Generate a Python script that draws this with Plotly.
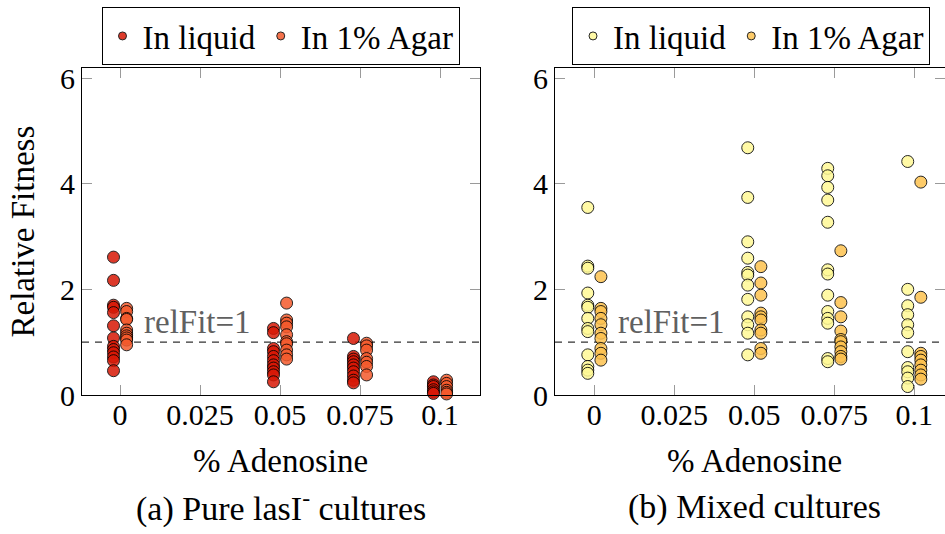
import plotly.graph_objects as go

# ---------------- data ----------------
CONCENTRATIONS = [0, 0.05, 0.075, 0.1]
TICK_VALUES = [0, 0.025, 0.05, 0.075, 0.1]
TICK_LABELS = ["0", "0.025", "0.05", "0.075", "0.1"]
Y_TICKS = [0, 2, 4, 6]
REF_LINE = 1

# Pure lasI- cultures
PURE_LIQUID = [
    [2.61, 2.17, 1.70, 1.66, 1.56, 1.31, 1.08, 0.92, 0.86, 0.80, 0.72, 0.65, 0.46],
    [1.26, 1.18, 0.88, 0.82, 0.73, 0.65, 0.57, 0.51, 0.44, 0.38, 0.25],
    [1.07, 0.73, 0.68, 0.63, 0.57, 0.51, 0.44, 0.36, 0.28, 0.23],
    [0.25, 0.19, 0.16, 0.10, 0.06, 0.03],
]
PURE_AGAR = [
    [1.64, 1.58, 1.45, 1.43, 1.23, 1.17, 1.12, 1.08, 1.04, 0.95],
    [1.74, 1.42, 1.36, 1.29, 1.14, 1.01, 0.97, 0.85, 0.76, 0.68],
    [0.98, 0.93, 0.85, 0.69, 0.62, 0.54, 0.38],
    [0.28, 0.22, 0.16, 0.09, 0.05, 0.02],
]

# Mixed cultures
MIXED_LIQUID = [
    [3.55, 2.44, 2.40, 1.93, 1.70, 1.66, 1.45, 1.26, 1.20, 0.76, 0.54, 0.47, 0.41],
    [4.68, 3.74, 2.90, 2.59, 2.32, 2.27, 2.08, 1.81, 1.48, 1.33, 1.17, 0.76],
    [4.29, 4.15, 3.93, 3.69, 3.27, 2.37, 2.29, 1.89, 1.58, 1.45, 1.36, 0.69, 0.63],
    [4.42, 2.00, 1.69, 1.52, 1.33, 1.18, 0.82, 0.52, 0.44, 0.32, 0.16],
]
MIXED_AGAR = [
    [2.24, 1.64, 1.58, 1.45, 1.33, 1.17, 1.07, 0.88, 0.79, 0.66],
    [2.43, 2.12, 1.89, 1.55, 1.48, 1.42, 1.23, 1.17, 0.88, 0.79],
    [2.73, 1.75, 1.48, 1.21, 1.05, 1.01, 0.91, 0.82, 0.73, 0.68],
    [4.03, 1.85, 0.79, 0.73, 0.66, 0.57, 0.47, 0.38, 0.30],
]

SERIES_NAMES = ["In liquid", "In 1% Agar"]
CAPTIONS = ["(a) Pure lasI<sup>-</sup> cultures", "(b) Mixed cultures"]
X_TITLE = "% Adenosine"
Y_TITLE = "Relative Fitness"
REF_LABEL = "relFit=1"

# ---------------- style ----------------
FONT = "Liberation Serif"
COLORS = {
    "pure_liquid": "rgb(216,24,6)",
    "pure_agar": "rgb(244,90,44)",
    "mixed_liquid": "rgb(255,249,150)",
    "mixed_agar": "rgb(253,194,80)",
}
OFFSET = 0.00205
MARKER_SIZE = 12
OPACITY = 0.85
TEXT_SIZE = 33


def flatten(groups, shift):
    xs, ys = [], []
    for c, vals in zip(CONCENTRATIONS, groups):
        for v in vals:
            xs.append(c + shift)
            ys.append(v)
    return xs, ys


fig = go.Figure()

panels = [
    ("x", "y", "legend", PURE_LIQUID, PURE_AGAR, COLORS["pure_liquid"], COLORS["pure_agar"]),
    ("x2", "y2", "legend2", MIXED_LIQUID, MIXED_AGAR, COLORS["mixed_liquid"], COLORS["mixed_agar"]),
]

for xa, ya, leg, liq, agar, c_liq, c_agar in panels:
    for name, groups, color, shift in [
        (SERIES_NAMES[0], liq, c_liq, -OFFSET),
        (SERIES_NAMES[1], agar, c_agar, OFFSET),
    ]:
        xs, ys = flatten(groups, shift)
        fig.add_trace(go.Scatter(
            x=xs, y=ys, xaxis=xa, yaxis=ya, mode="markers",
            marker=dict(size=MARKER_SIZE, color=color, opacity=OPACITY,
                        line=dict(color="black", width=1)),
            cliponaxis=False, showlegend=False, hoverinfo="skip",
        ))
        # legend entry (smaller marker, as in the reference)
        fig.add_trace(go.Scatter(
            x=[None], y=[None], xaxis=xa, yaxis=ya, mode="markers", name=name,
            marker=dict(size=8, color=color, opacity=OPACITY,
                        line=dict(color="black", width=1)),
            legend=leg, showlegend=True,
        ))

W, H = 945, 534
L, R, T, B = 82, 0, 68, 139
plot_w = W - L - R
left_dom = [0, (480 - L) / plot_w]
right_dom = [(555 - L) / plot_w, 1]

axis_common = dict(
    showline=True, linecolor="black", linewidth=1, mirror="allticks",
    ticks="inside", ticklen=10, tickwidth=1, tickcolor="#9a9a9a",
    showgrid=False, zeroline=False,
    tickfont=dict(family=FONT, size=30, color="black"),
)

fig.update_layout(
    width=W, height=H,
    margin=dict(l=L, r=R, t=T, b=B),
    paper_bgcolor="white", plot_bgcolor="white",
    font=dict(family=FONT, size=30, color="black"),
    xaxis=dict(domain=left_dom, range=[-0.0119, 0.1125], tickvals=TICK_VALUES,
               ticktext=TICK_LABELS, anchor="y", ticklabelstandoff=-7, **axis_common),
    yaxis=dict(range=[0, 6.19], tickvals=Y_TICKS, anchor="x", **axis_common),
    xaxis2=dict(domain=right_dom, range=[-0.0123, 0.1096], tickvals=TICK_VALUES,
                ticktext=TICK_LABELS, anchor="y2", ticklabelstandoff=-7, **axis_common),
    yaxis2=dict(range=[0, 6.19], tickvals=Y_TICKS, anchor="x2", **axis_common),
    legend=dict(orientation="h", x=(280.5 - L) / plot_w, xanchor="center",
                y=(395 - 7) / (395 - 68), yanchor="top",
                bordercolor="black", borderwidth=1, bgcolor="white",
                font=dict(family=FONT, size=TEXT_SIZE, color="black")),
    legend2=dict(orientation="h", x=(751 - L) / plot_w, xanchor="center",
                 y=(395 - 7) / (395 - 68), yanchor="top",
                 bordercolor="black", borderwidth=1, bgcolor="white",
                 font=dict(family=FONT, size=TEXT_SIZE, color="black")),
)

# reference dashed line
for xa, ya in [("x", "y"), ("x2", "y2")]:
    fig.add_shape(type="line", xref=f"{xa} domain", x0=0, x1=1, yref=ya,
                  y0=REF_LINE, y1=REF_LINE,
                  line=dict(color="#333333", width=1.1, dash="7px,6px"), layer="below")
    fig.add_annotation(x=0.0068, y=1.38, xref=xa, yref=ya, text=REF_LABEL,
                       showarrow=False, xanchor="left", yanchor="middle",
                       font=dict(family=FONT, size=TEXT_SIZE, color="#606060"))

ph = 395 - 68
centers = [(280.5 - L) / plot_w, (754 - L) / plot_w]
for cx, cap in zip(centers, CAPTIONS):
    fig.add_annotation(x=cx, y=(395 - 461) / ph, xref="paper", yref="paper",
                       text=X_TITLE, showarrow=False, xanchor="center", yanchor="middle",
                       font=dict(family=FONT, size=TEXT_SIZE, color="black"))
    fig.add_annotation(x=cx, y=(395 - 507) / ph, xref="paper", yref="paper",
                       text=cap, showarrow=False, xanchor="center", yanchor="middle",
                       font=dict(family=FONT, size=34, color="black"))

fig.add_annotation(x=(22 - L) / plot_w, y=0.5, xref="paper", yref="paper",
                   text=Y_TITLE, showarrow=False, textangle=-90,
                   xanchor="center", yanchor="middle",
                   font=dict(family=FONT, size=TEXT_SIZE, color="black"))

fig.write_html("out.html")
